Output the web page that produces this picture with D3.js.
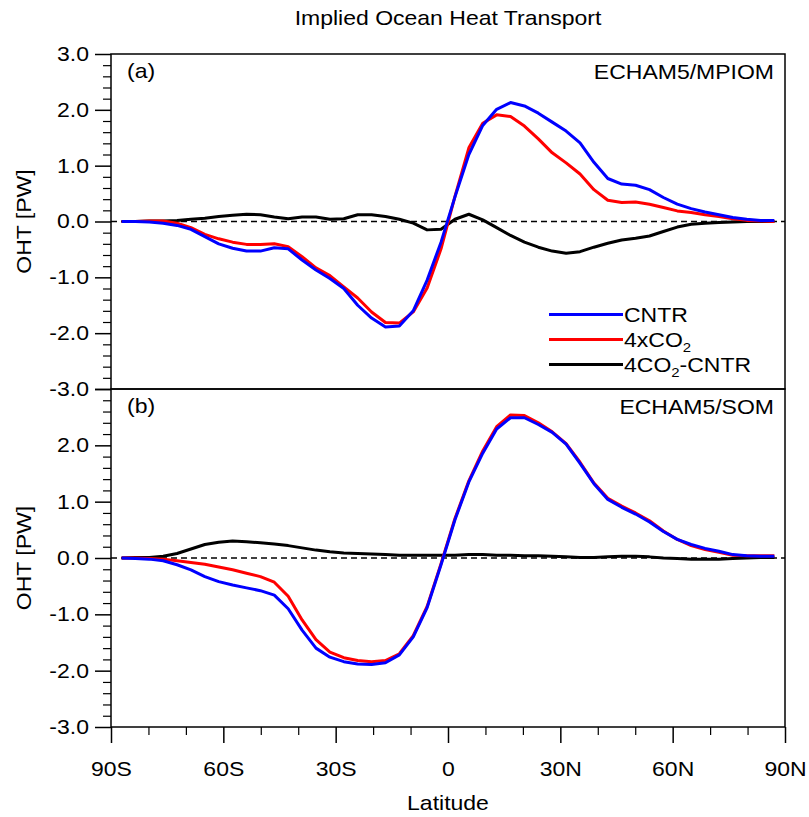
<!DOCTYPE html>
<html>
<head>
<meta charset="utf-8">
<script src="https://cdn.jsdelivr.net/npm/d3@7"></script>
<style>
  html, body { margin: 0; padding: 0; background: #fff; }
  svg { display: block; }
  text { font-family: "Liberation Sans", Arial, Helvetica, sans-serif; fill: #000; }
</style>
</head>
<body>
<svg id="chart" width="809" height="817"></svg>
<script>
// Gaussian latitudes of the model grid (degrees)
const lats = [-87.16, -83.48, -79.78, -76.07, -72.36, -68.65, -64.94, -61.23, -57.52, -53.81,
  -50.10, -46.39, -42.68, -38.97, -35.26, -31.54, -27.83, -24.12, -20.41, -16.70, -12.99, -9.28,
  -5.57, -1.86, 1.86, 5.57, 9.28, 12.99, 16.70, 20.41, 24.12, 27.83, 31.54, 35.26, 38.97, 42.68,
  46.39, 50.10, 53.81, 57.52, 61.23, 64.94, 68.65, 72.36, 76.07, 79.78, 83.48, 87.16];

// (a) ECHAM5/MPIOM, implied ocean heat transport in PW
const mpiomCntr = [0.00, 0.00, -0.01, -0.03, -0.07, -0.14, -0.27, -0.40, -0.48, -0.53,
  -0.53, -0.47, -0.49, -0.69, -0.87, -1.02, -1.20, -1.50, -1.73, -1.89, -1.87, -1.60,
  -1.05, -0.37, 0.44, 1.20, 1.72, 2.01, 2.13, 2.07, 1.94, 1.78, 1.62, 1.41, 1.06, 0.77,
  0.67, 0.65, 0.57, 0.43, 0.31, 0.23, 0.17, 0.12, 0.07, 0.04, 0.02, 0.02];
const mpiom4co2 = [0.00, 0.00, 0.01, 0.01, -0.03, -0.11, -0.23, -0.31, -0.37, -0.41,
  -0.41, -0.40, -0.45, -0.63, -0.83, -0.97, -1.17, -1.37, -1.62, -1.81, -1.82, -1.62,
  -1.19, -0.49, 0.45, 1.32, 1.76, 1.91, 1.88, 1.71, 1.48, 1.23, 1.05, 0.85, 0.57, 0.38,
  0.34, 0.35, 0.31, 0.25, 0.19, 0.16, 0.12, 0.09, 0.05, 0.02, 0.01, 0.00];
const mpiomDiff = [0.00, 0.00, 0.01, 0.01, 0.02, 0.04, 0.06, 0.09, 0.11, 0.13,
  0.12, 0.08, 0.05, 0.08, 0.08, 0.04, 0.05, 0.12, 0.12, 0.09, 0.04, -0.03,
  -0.15, -0.14, 0.04, 0.13, 0.03, -0.11, -0.25, -0.37, -0.46, -0.53, -0.57, -0.54, -0.46, -0.39,
  -0.33, -0.30, -0.26, -0.18, -0.10, -0.05, -0.03, -0.02, -0.01, 0.00, 0.00, 0.00];

// (b) ECHAM5/SOM
const somCntr = [0.00, -0.01, -0.02, -0.05, -0.12, -0.21, -0.33, -0.42, -0.48, -0.53,
  -0.58, -0.66, -0.90, -1.28, -1.60, -1.76, -1.84, -1.88, -1.89, -1.86, -1.72, -1.40,
  -0.88, -0.12, 0.68, 1.35, 1.86, 2.29, 2.49, 2.49, 2.37, 2.23, 2.02, 1.68, 1.32, 1.04,
  0.90, 0.78, 0.64, 0.47, 0.33, 0.24, 0.17, 0.12, 0.06, 0.04, 0.03, 0.03];
const som4co2 = [0.00, 0.00, -0.01, -0.02, -0.05, -0.08, -0.11, -0.16, -0.21, -0.27,
  -0.33, -0.43, -0.68, -1.10, -1.45, -1.67, -1.77, -1.82, -1.84, -1.82, -1.70, -1.38,
  -0.86, -0.10, 0.70, 1.37, 1.90, 2.33, 2.54, 2.53, 2.40, 2.24, 2.03, 1.70, 1.33, 1.06,
  0.92, 0.80, 0.66, 0.48, 0.33, 0.22, 0.15, 0.10, 0.05, 0.04, 0.04, 0.04];
const somDiff = [0.00, 0.01, 0.01, 0.03, 0.08, 0.16, 0.24, 0.28, 0.30, 0.29,
  0.27, 0.25, 0.22, 0.18, 0.14, 0.11, 0.09, 0.08, 0.07, 0.06, 0.05, 0.05,
  0.05, 0.05, 0.05, 0.06, 0.06, 0.05, 0.05, 0.04, 0.04, 0.03, 0.02, 0.01, 0.01, 0.02,
  0.03, 0.03, 0.02, 0.00, -0.01, -0.02, -0.02, -0.02, -0.01, 0.00, 0.01, 0.01];

const latTicks = [-90, -60, -30, 0, 30, 60, 90];
const latTickLabels = ["90S", "60S", "30S", "0", "30N", "60N", "90N"];
const yTicks = [-3, -2, -1, 0, 1, 2, 3];

const seriesColors = { cntr: "#0000ff", co2: "#ff0000", diff: "#000000" };

// text is drawn slightly widened, like the plotting package's stroke font
const FS = 20, SX = 1.15;

const svg = d3.select("#chart");
const left = 111, right = 785;
const x = d3.scaleLinear().domain([-90, 90]).range([left, right]);

const panels = [
  { tag: "(a)", name: "ECHAM5/MPIOM", top: 54, bottom: 389, cntr: mpiomCntr, co2: mpiom4co2, diff: mpiomDiff, legend: true, xaxis: false, skipTop: false },
  { tag: "(b)", name: "ECHAM5/SOM", top: 389, bottom: 727, cntr: somCntr, co2: som4co2, diff: somDiff, legend: false, xaxis: true, skipTop: true }
];

function wideText(g, px, py, str, anchor) {
  return g.append("text")
    .attr("transform", `translate(${px},${py}) scale(${SX},1)`)
    .attr("text-anchor", anchor)
    .style("font-size", FS + "px")
    .text(str);
}

function widenAxisText(a) {
  a.selectAll("text").each(function () {
    const t = d3.select(this);
    const x0 = +t.attr("x") || 0;
    t.attr("x", x0 / SX)
      .attr("transform", `scale(${SX},1)`)
      .attr("fill", "#000")
      .style("font-size", FS + "px")
      .style("font-family", "'Liberation Sans', Arial, sans-serif");
  });
}

panels.forEach(p => {
  const y = d3.scaleLinear().domain([-3, 3]).range([p.bottom, p.top]);
  const g = svg.append("g");

  // minor y ticks
  const minor = d3.range(-30, 31, 2).filter(v => v % 10 !== 0).map(v => v / 10);
  g.append("g").attr("transform", `translate(${left},0)`)
    .call(d3.axisLeft(y).tickValues(minor).tickSize(8).tickFormat(""))
    .call(a => a.select(".domain").remove())
    .call(a => a.selectAll("line").attr("stroke", "#000").attr("stroke-width", 1.2));

  // major y ticks with labels (the shared edge between panels carries one label)
  g.append("g").attr("transform", `translate(${left},0)`)
    .call(d3.axisLeft(y).tickValues(yTicks).tickSize(16).tickPadding(6)
      .tickFormat(d => (p.skipTop && d === 3) ? "" : d.toFixed(1)))
    .call(a => a.select(".domain").remove())
    .call(a => a.selectAll("line").attr("stroke", "#000").attr("stroke-width", 1.5))
    .call(widenAxisText);

  // y axis title
  g.append("text")
    .attr("transform", `translate(31,${(p.top + p.bottom) / 2}) rotate(-90) scale(${SX},1)`)
    .attr("text-anchor", "middle")
    .style("font-size", FS + "px")
    .text("OHT [PW]");

  // zero reference line
  g.append("line")
    .attr("x1", left).attr("x2", right)
    .attr("y1", y(0)).attr("y2", y(0))
    .attr("stroke", "#000").attr("stroke-width", 1.3)
    .attr("stroke-dasharray", "6,4");

  const line = d3.line().x((d, i) => x(lats[i])).y(d => y(d));
  [["diff", p.diff], ["co2", p.co2], ["cntr", p.cntr]].forEach(([k, vals]) => {
    g.append("path")
      .datum(vals)
      .attr("d", line)
      .attr("fill", "none")
      .attr("stroke", seriesColors[k])
      .attr("stroke-width", 3)
      .attr("stroke-linejoin", "round");
  });

  // frame
  g.append("rect")
    .attr("x", left).attr("y", p.top)
    .attr("width", right - left).attr("height", p.bottom - p.top)
    .attr("fill", "none").attr("stroke", "#000").attr("stroke-width", 1.5);

  // panel labels
  wideText(g, 127, p.top + 24, p.tag, "start");
  wideText(g, 774, p.top + 25, p.name, "end");

  if (p.xaxis) {
    const xg = g.append("g").attr("transform", `translate(0,${p.bottom})`);
    xg.call(d3.axisBottom(x).tickValues(d3.range(-80, 90, 10).filter(v => v % 30 !== 0)).tickSize(8).tickFormat(""))
      .call(a => a.select(".domain").remove())
      .call(a => a.selectAll("line").attr("stroke", "#000").attr("stroke-width", 1.2));
    const xg2 = g.append("g").attr("transform", `translate(0,${p.bottom})`);
    xg2.call(d3.axisBottom(x).tickValues(latTicks).tickSize(16).tickPadding(19)
        .tickFormat((d, i) => latTickLabels[i]))
      .call(a => a.select(".domain").remove())
      .call(a => a.selectAll("line").attr("stroke", "#000").attr("stroke-width", 1.5))
      .call(widenAxisText);
    wideText(g, (left + right) / 2, 810, "Latitude", "middle");
  }

  if (p.legend) {
    const items = [
      { k: "cntr", label: [["CNTR", false]] },
      { k: "co2", label: [["4xCO", false], ["2", true]] },
      { k: "diff", label: [["4CO", false], ["2", true], ["-CNTR", false]] }
    ];
    const ly = d3.scaleBand().domain(items.map(d => d.k)).range([302, 377]);
    items.forEach(it => {
      const cy = ly(it.k) + ly.bandwidth() / 2;
      g.append("line").attr("x1", 549).attr("x2", 623).attr("y1", cy).attr("y2", cy)
        .attr("stroke", seriesColors[it.k]).attr("stroke-width", 3);
      const t = wideText(g, 624, cy + 7, "", "start");
      it.label.forEach(([s, sub], i) => {
        if (sub) {
          t.append("tspan").attr("dy", 5).style("font-size", "13px").text(s);
        } else {
          const ts = t.append("tspan").text(s);
          if (i > 0) ts.attr("dy", -5);
        }
      });
    });
  }
});

// title
wideText(svg, 448, 25, "Implied Ocean Heat Transport", "middle");
</script>
</body>
</html>
